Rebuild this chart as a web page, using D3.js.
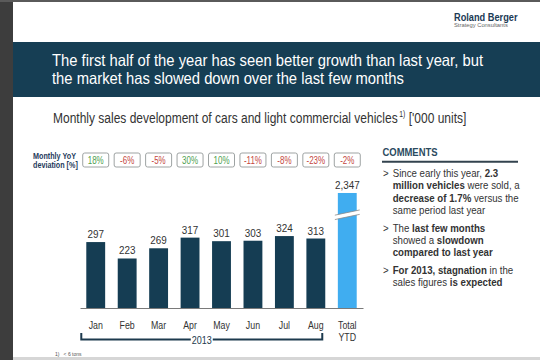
<!DOCTYPE html>
<html>
<head>
<meta charset="utf-8">
<script src="https://cdn.jsdelivr.net/npm/d3@7"></script>
<style>
  html, body { margin: 0; padding: 0; background: #fff; }
  svg { display: block; }
  text { white-space: pre; }
</style>
</head>
<body>
<svg id="chart" width="540" height="360"></svg>
<script>
// ---- data ----
const months = ["Jan", "Feb", "Mar", "Apr", "May", "Jun", "Jul", "Aug", "Total YTD"];
const sales = [297, 223, 269, 317, 301, 303, 324, 313, 2347];
const yoyDeviation = [18, -6, -5, 30, 10, -11, -8, -23, -2];
const titleLines = [
  "The first half of the year has seen better growth than last year, but",
  "the market has slowed down over the last few months"
];
const subtitleMain = "Monthly sales development of cars and light commercial vehicles";
const subtitleSup = "1)";
const subtitleUnit = " ['000 units]";
const yoyLabel = ["Monthly YoY", "deviation [%]"];
const periodLabel = "2013";
const footnote = "1)   < 6 tons";
const commentsTitle = "COMMENTS";
const comments = [
  [[{t: "Since early this year, "}, {t: "2.3", b: true}],
   [{t: "million vehicles", b: true}, {t: " were sold, a"}],
   [{t: "decrease of 1.7%", b: true}, {t: " versus the"}],
   [{t: "same period last year"}]],
  [[{t: "The "}, {t: "last few months", b: true}],
   [{t: "showed a "}, {t: "slowdown", b: true}],
   [{t: "compared to last year", b: true}]],
  [[{t: "For 2013, stagnation", b: true}, {t: " in the"}],
   [{t: "sales figures "}, {t: "is expected", b: true}]]
];

// ---- style ----
const FONT = "'Liberation Sans', Arial, Helvetica, sans-serif";
const NAVY = "#153d53";
const BLUE = "#40adf0";
const TEXT = "#333333";
const GREEN = "#4f9f4f";
const RED = "#c4483f";

const svg = d3.select("#chart");

function ntext(parent, x, y, parts, o) {
  const t = parent.append("text")
    .attr("transform", `translate(${x},${y}) scale(${o.sx || 1},1)`)
    .attr("font-family", FONT)
    .attr("font-size", o.size)
    .attr("fill", o.fill || TEXT)
    .attr("text-anchor", o.anchor || "start");
  parts.forEach(p => {
    const s = t.append("tspan").text(p.t)
      .attr("font-weight", p.b ? "bold" : (o.weight || "normal"));
    if (p.fill) s.attr("fill", p.fill);
  });
  return t;
}

// ---- frame ----
svg.append("rect").attr("x", 0).attr("y", 0).attr("width", 540).attr("height", 360).attr("fill", "#fff");
svg.append("rect").attr("x", 0).attr("y", 0).attr("width", 13).attr("height", 360).attr("fill", "#3d3d3d");
svg.append("rect").attr("x", 0).attr("y", 0).attr("width", 540).attr("height", 2).attr("fill", "#5a5a5a");
svg.append("rect").attr("x", 13).attr("y", 357).attr("width", 527).attr("height", 3).attr("fill", "#d6d6d6");

// logo
ntext(svg, 454, 21, [{t: "Roland Berger"}], {size: 11, sx: 0.84, fill: "#1b3a55", weight: "bold"});
ntext(svg, 454, 27, [{t: "Strategy Consultants"}], {size: 5.8, fill: "#666"});

// title banner
svg.append("rect").attr("x", 13).attr("y", 42).attr("width", 527).attr("height", 55).attr("fill", "#163e54");
const titleWidths = [431, 352];
titleLines.forEach((line, i) => {
  svg.append("text")
    .attr("x", 52).attr("y", 65.5 + i * 18)
    .attr("font-family", FONT).attr("font-size", 16.5).attr("fill", "#fff")
    .attr("textLength", titleWidths[i]).attr("lengthAdjust", "spacingAndGlyphs")
    .text(line);
});

// subtitle
const sub = svg.append("text")
  .attr("transform", "translate(53,122.5) scale(0.8,1)")
  .attr("font-family", FONT).attr("font-size", 15).attr("fill", TEXT);
sub.append("tspan").text(subtitleMain);
sub.append("tspan").text(subtitleSup).attr("font-size", 8.5).attr("dy", -5.5).attr("dx", 2);
sub.append("tspan").text(subtitleUnit).attr("dy", 5.5);

// ---- scales ----
const x = d3.scaleBand().domain(months).range([80, 363]).paddingInner(0.4).paddingOuter(0.2);
const bw = x.bandwidth();
const y = d3.scaleLinear().domain([0, 1000]).range([308, 86]);
const breakValue = 420;
const compress = 0.0113;
const yBroken = d3.scaleLinear()
  .domain([0, breakValue, d3.max(sales)])
  .range([y(0), y(breakValue), y(breakValue) - (d3.max(sales) - breakValue) * compress]);
const isTotal = (d, i) => i === months.length - 1;
const yOf = (v, i) => isTotal(null, i) ? yBroken(v) : y(v);

// ---- YoY badges ----
const yoyG = svg.append("g");
ntext(yoyG, 33, 158.5, [{t: yoyLabel[0]}], {size: 8.8, sx: 0.82, fill: "#1f3b5b", weight: "bold"});
ntext(yoyG, 33, 167.5, [{t: yoyLabel[1]}], {size: 8.8, sx: 0.82, fill: "#1f3b5b", weight: "bold"});
months.forEach((m, i) => {
  const cx = x(m) + bw / 2;
  yoyG.append("rect")
    .attr("x", cx - 13).attr("y", 153).attr("width", 26).attr("height", 14).attr("rx", 2)
    .attr("fill", "#fff").attr("stroke", "#9ea3a3").attr("stroke-width", 1);
  const v = yoyDeviation[i];
  ntext(yoyG, cx, 163.6, [{t: v + "%"}], {size: 10, sx: 0.8, anchor: "middle", fill: v >= 0 ? GREEN : RED});
});

// ---- bars ----
const barsG = svg.append("g");
barsG.selectAll("rect.bar").data(sales).join("rect")
  .attr("class", "bar")
  .attr("x", (d, i) => x(months[i]))
  .attr("width", bw)
  .attr("y", (d, i) => yOf(d, i))
  .attr("height", (d, i) => y(0) - yOf(d, i))
  .attr("fill", (d, i) => isTotal(d, i) ? BLUE : NAVY);

// break marks on total bar
{
  const m = months[months.length - 1];
  const cx = x(m) + bw / 2;
  const yc = yBroken(breakValue);
  const half = bw / 2 + 3;
  const slope = 0.21;
  const gap = 2.2;
  const pts = [
    [cx - half, yc - gap + half * slope], [cx + half, yc - gap - half * slope],
    [cx + half, yc + gap - half * slope], [cx - half, yc + gap + half * slope]
  ];
  barsG.append("polygon").attr("points", pts.map(p => p.join(",")).join(" ")).attr("fill", "#fff");
  barsG.append("line").attr("x1", pts[0][0]).attr("y1", pts[0][1]).attr("x2", pts[1][0]).attr("y2", pts[1][1])
    .attr("stroke", "#8a8a8a").attr("stroke-width", 0.8);
  barsG.append("line").attr("x1", pts[3][0]).attr("y1", pts[3][1]).attr("x2", pts[2][0]).attr("y2", pts[2][1])
    .attr("stroke", "#8a8a8a").attr("stroke-width", 0.8);
}

// value labels
const fmt = d3.format(",");
sales.forEach((v, i) => {
  ntext(barsG, x(months[i]) + bw / 2, yOf(v, i) - 4, [{t: fmt(v)}], {size: 11.5, sx: 0.86, anchor: "middle"});
});

// ---- x axis ----
const axisG = svg.append("g").attr("transform", `translate(0,${y(0)})`)
  .call(d3.axisBottom(x).tickSize(0).tickSizeOuter(0).tickPadding(0));
axisG.select(".domain").attr("stroke", "#7a7a7a").attr("stroke-width", 1);
axisG.selectAll(".tick text")
  .attr("font-family", FONT).attr("font-size", 11).attr("fill", TEXT)
  .attr("transform", "scale(0.8,1)")
  .attr("y", 17).attr("dy", "0.35em")
  .each(function(d) {
    const parts = d.split(" ");
    if (parts.length > 1) {
      const t = d3.select(this).text(null);
      parts.forEach((p, k) => t.append("tspan").attr("x", 0).attr("dy", k === 0 ? "0.35em" : "1.1em").text(p));
    }
  });

// bracket for 2013
{
  const x0 = x(months[0]) - 5;
  const x1 = x(months[7]) + bw - 3;
  const yb = 339.5;
  svg.append("path")
    .attr("d", `M${x0},${yb - 6.5}V${yb}H${x1}V${yb - 6.5}`)
    .attr("fill", "none").attr("stroke", "#1d3a4e").attr("stroke-width", 2);
  const mid = (x0 + x1) / 2;
  svg.append("rect").attr("x", mid - 11).attr("y", yb - 6).attr("width", 22).attr("height", 12).attr("fill", "#fff");
  ntext(svg, mid, yb + 4, [{t: periodLabel}], {size: 11, sx: 0.82, anchor: "middle", fill: "#1d3a4e"});
}

// footnote
ntext(svg, 55, 355.5, [{t: footnote}], {size: 5, fill: "#555"});

// ---- comments ----
const cg = svg.append("g");
ntext(cg, 382.5, 155.5, [{t: commentsTitle}], {size: 10.5, sx: 0.9, fill: "#2b4a5e", weight: "bold"});
cg.append("line").attr("x1", 382).attr("x2", 518).attr("y1", 161.8).attr("y2", 161.8)
  .attr("stroke", "#33434e").attr("stroke-width", 2);
let by = 177;
comments.forEach(bullet => {
  ntext(cg, 383, by, [{t: ">"}], {size: 11, sx: 0.88});
  bullet.forEach(line => {
    ntext(cg, 392.7, by, line, {size: 11, sx: 0.88});
    by += 12.4;
  });
  by += 5;
});
</script>
</body>
</html>
